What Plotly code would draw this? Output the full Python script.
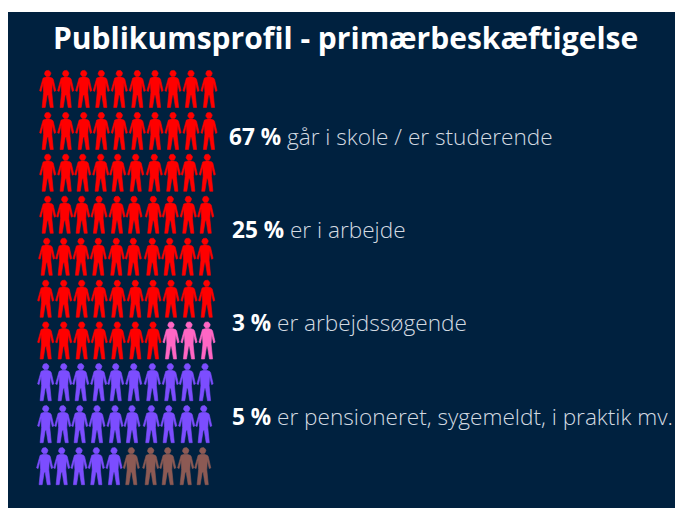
import math
import plotly.graph_objects as go

# --- data ---
title = "Publikumsprofil - primærbeskæftigelse"
groups = ["går i skole / er studerende", "er arbejdssøgende", "er i arbejde", "er pensioneret, sygemeldt, i praktik mv."]
shares = [67, 3, 25, 5]
label_order = [0, 2, 1, 3]

# --- style / layout ---
colors = ["#ff0000", "#ff66c4", "#7c4dff", "#8c5a54"]
BG = "#00213f"
TXT = "#d3dae1"
label_x = [227, 230, 230, 230]
label_y = [136, 229, 322, 416]

row_y = [73.5, 115.5, 157.3, 199.3, 241.3, 283.3, 325, 366.7, 408.7, 450.7]
row_x = [
    [47.7, 65.7, 83.7, 101.3, 119.3, 137.3, 155, 173, 191, 209],
    [47.7, 65.7, 83.7, 101.3, 119.3, 137.3, 155, 173, 191, 209],
    [47.7, 65.7, 82.7, 100.7, 117.7, 135.7, 154.3, 172.3, 189.3, 207.3],
    [47.7, 64.7, 81.7, 99, 117, 134, 153.3, 170.3, 188.3, 205.7],
    [46.7, 63.7, 81, 98.3, 116.3, 133.3, 152.3, 169.7, 187.7, 205],
    [45.7, 63.7, 81.7, 99.3, 117.3, 135.3, 153, 171, 189, 206.7],
    [45.7, 63.7, 81.7, 99.3, 117.3, 135.3, 153, 171, 189, 207],
    [45.7, 63.7, 80.7, 98.7, 115.7, 133.7, 152.3, 170.3, 187.3, 205],
    [45.7, 62.7, 79.7, 97, 115, 132, 151.3, 168.7, 186.7, 203.7],
    [44.7, 61.7, 79, 96.3, 114, 131.3, 150.7, 167.7, 185.7, 202.7],
]

# person outline, relative to head centre
half = [(1.3, 3.6), (4.6, 4.6), (5.6, 6), (8.1, 17.2), (6.6, 17.9), (4.6, 9.5), (4.1, 19),
        (5.6, 34), (2.5, 34), (0.5, 21.5)]
body = half + [(-x, y) for x, y in reversed(half)]
head = [(3.2 * math.cos(t * math.pi / 12), 3.2 * math.sin(t * math.pi / 12)) for t in range(24)]

cells = [(x, row_y[r]) for r in range(10) for x in row_x[r]]

fig = go.Figure()
start = 0
for name, share, color in zip(groups, shares, colors):
    xs, ys = [], []
    for cx, cy in cells[start:start + share]:
        for poly in (head, body):
            xs += [cx + p[0] for p in poly] + [cx + poly[0][0], None]
            ys += [cy + p[1] for p in poly] + [cy + poly[0][1], None]
    start += share
    fig.add_trace(go.Scatter(x=xs, y=ys, mode="lines", fill="toself", fillcolor=color,
                             line=dict(color=color, width=0.6), name=name,
                             hoverinfo="name", showlegend=False))

fig.add_annotation(x=345.5, y=37, text="<b>" + title + "</b>", showarrow=False, xanchor="center", yanchor="middle",
                   font=dict(family="Open Sans", size=30, color="#ffffff"))
for i, idx in enumerate(label_order):
    fig.add_annotation(
        x=label_x[i], y=label_y[i], xanchor="left", yanchor="middle", showarrow=False,
        text=f"<b><span style='color:#ffffff'>{shares[idx]} %</span></b> {groups[idx]}",
        font=dict(family="Open Sans", size=22.6, color=TXT, weight=300))

fig.add_shape(type="rect", x0=8, x1=675, y0=12, y1=508, fillcolor=BG, line_width=0, layer="below")
fig.update_layout(
    width=675, height=508, margin=dict(l=0, r=0, t=0, b=0),
    paper_bgcolor="#ffffff", plot_bgcolor="#ffffff",
    xaxis=dict(range=[0, 675], visible=False, fixedrange=True),
    yaxis=dict(range=[508, 0], visible=False, fixedrange=True),
)
fig.write_html("out.html", config={"displayModeBar": False},
               post_script="document.body.style.margin='0';document.body.style.overflow='hidden';")
